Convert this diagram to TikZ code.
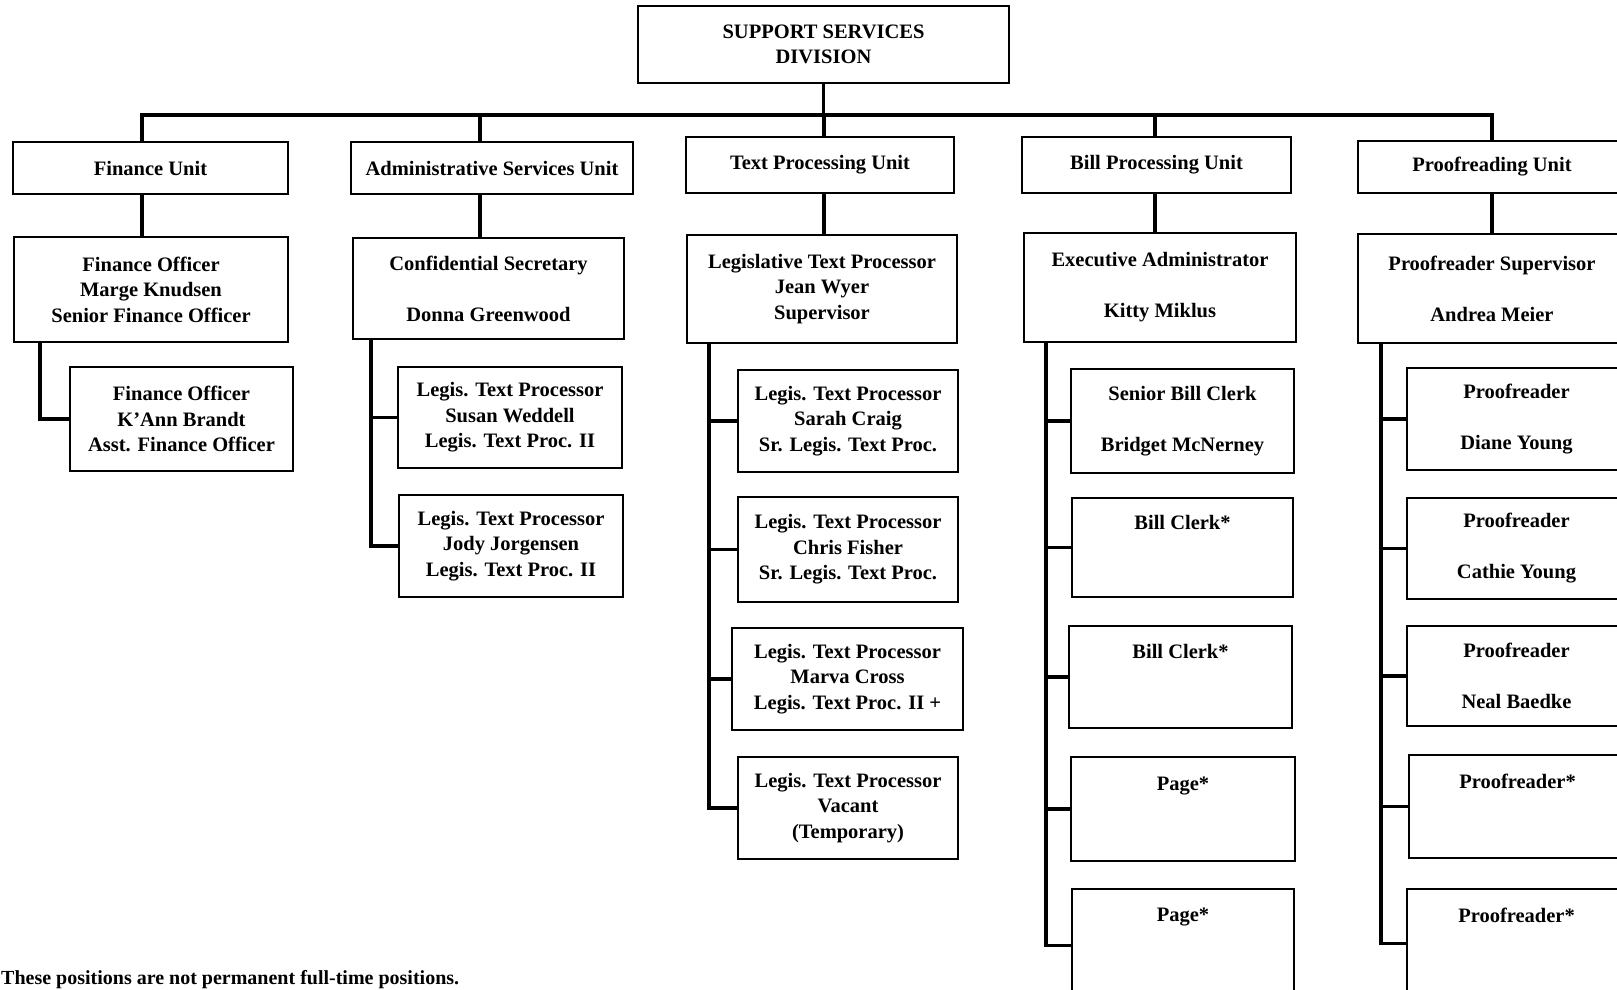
\documentclass[tikz,border=0pt]{standalone}
\usepackage{fontspec}
\setmainfont{Liberation Serif}
% box from its corners: name, left, top, right, bottom, text
\newcommand\orgbox[6]{%
  \node[box, minimum width={#4-#2}, minimum height={#5-#3}] (#1)
    at ({(#2+#4)/2},{(#3+#5)/2}) {#6};}
\begin{document}
\begin{tikzpicture}[x=1pt, y=-1pt,
  box/.style={draw, line width=2.4pt, inner sep=0pt, align=center,
    font=\bfseries\fontsize{20.5}{25.5}\selectfont},
  link/.style={draw, line width=3.2pt, line join=miter},
  note/.style={anchor=base west, inner sep=0pt,
    font=\bfseries\fontsize{20}{24}\selectfont}]
\useasboundingbox (0,0) rectangle (1617,990);
\fill[white] (0,0) rectangle (1617,990);

% division
\orgbox{top}{638}{6}{1009}{83}{SUPPORT SERVICES\\DIVISION}

% units
\orgbox{fu}{13}{142}{288}{194}{Finance Unit}
\orgbox{au}{351}{142}{633}{194}{Administrative Services Unit}
\orgbox{tu}{686}{137}{954}{193}{Text Processing Unit}
\orgbox{bu}{1022}{137}{1291}{193}{Bill Processing Unit}
\orgbox{pu}{1358}{141}{1626}{193}{Proofreading Unit}

% unit heads
\orgbox{fo}{14}{237}{288}{342}{Finance Officer\\Marge Knudsen\\Senior Finance Officer}
\orgbox{cs}{353}{238}{624}{339}{Confidential Secretary\\~\\Donna Greenwood}
\orgbox{lt}{687}{235}{957}{343}{Legislative Text Processor\\Jean Wyer\\Supervisor}
\orgbox{ea}{1024}{233}{1296}{342}{Executive Administrator\\~\\Kitty Miklus}
\orgbox{ps}{1358}{234}{1626}{343}{Proofreader Supervisor\\~\\Andrea Meier}

% finance staff
\orgbox{f1}{70}{367}{293}{471}{Finance Officer\\K'Ann Brandt\\Asst. Finance Officer}

% administrative staff
\orgbox{a1}{398}{367}{622}{468}{Legis. Text Processor\\Susan Weddell\\Legis. Text Proc. II}
\orgbox{a2}{399}{495}{623}{597}{Legis. Text Processor\\Jody Jorgensen\\Legis. Text Proc. II}

% text processing staff
\orgbox{t1}{738}{370}{958}{472}{Legis. Text Processor\\Sarah Craig\\Sr. Legis. Text Proc.}
\orgbox{t2}{738}{497}{958}{602}{Legis. Text Processor\\Chris Fisher\\Sr. Legis. Text Proc.}
\orgbox{t3}{732}{628}{963}{730}{Legis. Text Processor\\Marva Cross\\Legis. Text Proc. II +}
\orgbox{t4}{738}{757}{958}{859}{Legis. Text Processor\\Vacant\\(Temporary)}

% bill processing staff
\orgbox{b1}{1071}{369}{1294}{473}{Senior Bill Clerk\\~\\Bridget McNerney}
\orgbox{b2}{1072}{498}{1293}{597}{Bill Clerk*\\~\\~}
\orgbox{b3}{1069}{626}{1292}{728}{Bill Clerk*\\~\\~}
\orgbox{b4}{1071}{757}{1295}{861}{Page*\\~\\~}
\orgbox{b5}{1072}{889}{1294}{992}{Page*\\~\\~}

% proofreading staff
\orgbox{p1}{1407}{368}{1626}{470}{Proofreader\\~\\Diane Young}
\orgbox{p2}{1407}{498}{1626}{599}{Proofreader\\~\\Cathie Young}
\orgbox{p3}{1407}{626}{1626}{726}{Proofreader\\~\\Neal Baedke}
\orgbox{p4}{1409}{755}{1626}{858}{Proofreader*\\~\\~}
\orgbox{p5}{1407}{889}{1626}{992}{Proofreader*\\~\\~}

% bus and drop lines
\coordinate (cF) at (142,115);
\coordinate (cA) at (480,115);
\coordinate (cT) at (824,115);
\coordinate (cB) at (1155,115);
\coordinate (cP) at (1492,115);
\draw[link] (top.south) -- (top.south |- cT);
\draw[link] (fu.north -| cF) -- (cF) -- (cP) -- (pu.north -| cP);
\draw[link] (cA) -- (au.north -| cA);
\draw[link] (cT) -- (tu.north -| cT);
\draw[link] (cB) -- (bu.north -| cB);

% unit to head
\draw[link] (fu.south -| cF) -- (fo.north -| cF);
\draw[link] (au.south -| cA) -- (cs.north -| cA);
\draw[link] (tu.south -| cT) -- (lt.north -| cT);
\draw[link] (bu.south -| cB) -- (ea.north -| cB);
\draw[link] (pu.south -| cP) -- (ps.north -| cP);

% spines
\coordinate (sF) at (40,0);
\coordinate (sA) at (371,0);
\coordinate (sT) at (709,0);
\coordinate (sB) at (1046,0);
\coordinate (sP) at (1381,0);

\draw[link] (fo.south -| sF) |- (f1.west);

\draw[link] (cs.south -| sA) |- (a2.west);
\draw[link] (sA |- a1.west) -- (a1.west);

\draw[link] (lt.south -| sT) |- (t4.west);
\foreach \n in {t1,t2,t3} \draw[link] (sT |- \n.west) -- (\n.west);

\draw[link] (ea.south -| sB) |- ([yshift=-5pt]b5.west);
\foreach \n in {b1,b2,b3,b4} \draw[link] (sB |- \n.west) -- (\n.west);

\draw[link] (ps.south -| sP) |- ([yshift=-3pt]p5.west);
\foreach \n in {p1,p2,p3,p4} \draw[link] (sP |- \n.west) -- (\n.west);

% footnote
\node[note] (fn) at (1,984) {These positions are not permanent full-time positions.};
\end{tikzpicture}
\end{document}
